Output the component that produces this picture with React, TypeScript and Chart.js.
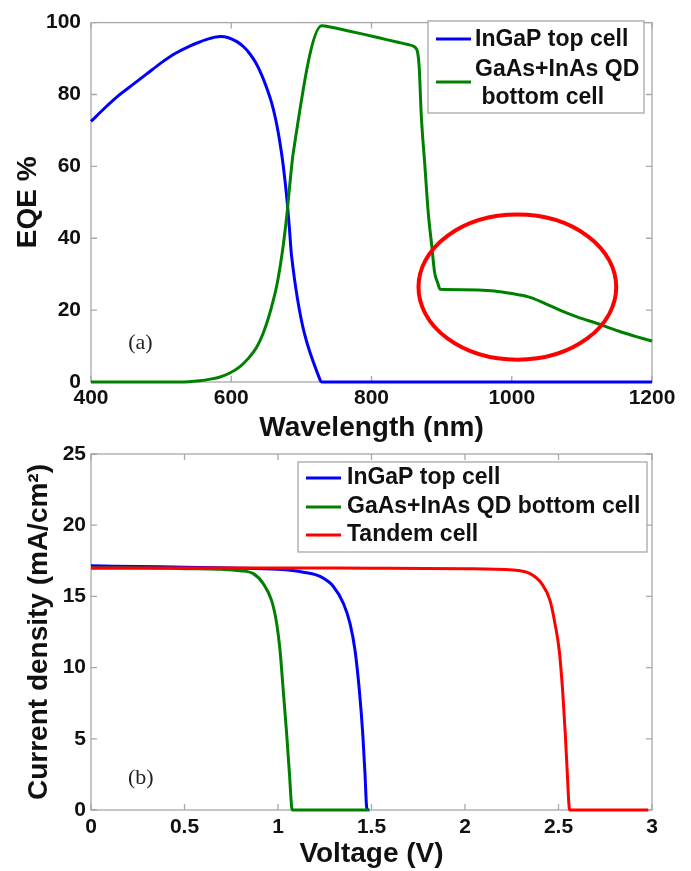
import React, { useEffect, useRef } from 'react';
import { Chart, registerables } from 'chart.js';

Chart.register(...registerables);

// ---------- Data: panel (a) EQE ----------
const ingapWavelength = [400, 420, 440, 460, 480, 500, 520, 540, 555, 570, 584, 596, 608, 618, 627, 635, 643, 651, 658, 663, 667, 671, 674, 677, 680, 683, 686, 727, 729, 800, 900, 1000, 1100, 1200];
const ingapEqe = [72.5, 76.3, 79.8, 82.8, 85.8, 88.8, 91.4, 93.4, 94.6, 95.6, 96.1, 95.8, 94.7, 93.2, 91.2, 88.8, 85.6, 81.6, 77.4, 73.4, 69.4, 64.6, 60.4, 55.4, 49.6, 42.6, 35.1, 0.4, 0, 0, 0, 0, 0, 0];

const gaasWavelength = [400, 450, 500, 540, 555, 570, 584, 598, 612, 624, 636, 645, 653, 659, 665, 670, 674, 677, 680, 682, 684, 686, 688, 729, 741, 755, 788, 812, 836, 852, 860, 864, 866, 868, 871, 876, 881, 886, 890, 894, 898, 930, 952, 975, 1000, 1024, 1047, 1071, 1095, 1123, 1152, 1180, 1200];
const gaasEqe = [0, 0, 0, 0.1, 0.35, 0.8, 1.4, 2.5, 4.2, 6.5, 9.6, 13.3, 17.8, 22.0, 26.9, 32.5, 37.8, 42.5, 47.8, 52.0, 55.9, 59.8, 63.2, 99.1, 98.8, 98.2, 96.8, 95.7, 94.6, 93.9, 93.4, 92.7, 91.5, 87.7, 74.1, 60.5, 46.9, 37.8, 30.5, 27.8, 25.8, 25.7, 25.6, 25.3, 24.6, 23.7, 21.9, 19.8, 18.0, 16.2, 14.2, 12.5, 11.4];

const eqeXTicks = { min: 400, max: 1200, step: 200 };
const eqeYTicks = { min: 0, max: 100, step: 20 };
const eqeSeriesLabels = ['InGaP top cell', 'GaAs+InAs QD bottom cell'];
const eqeLegendLines = [['InGaP top cell'], ['GaAs+InAs QD', ' bottom cell']];
const eqeCircle = { x: 1008, y: 26.4, rx: 141, ry: 20.2 };
const eqePanelLabel = { text: '(a)', x: 453, y: 10.9 };

// ---------- Data: panel (b) J-V ----------
const ingapVoltage = [0, 0.25, 0.5, 0.75, 1.0, 1.135, 1.225, 1.296, 1.35, 1.385, 1.412, 1.435, 1.453, 1.465, 1.474, 1.48];
const ingapCurrent = [17.15, 17.1, 17.05, 17.0, 16.9, 16.7, 16.4, 15.7, 14.5, 13.1, 11.2, 8.4, 5.4, 2.6, 0.2, 0];

const gaasVoltage = [0, 0.25, 0.5, 0.7, 0.797, 0.868, 0.921, 0.966, 0.993, 1.011, 1.028, 1.046, 1.061, 1.073, 1.078, 1.49];
const gaasCurrent = [17.0, 17.0, 16.95, 16.9, 16.8, 16.6, 15.9, 14.7, 13.1, 11.2, 8.4, 5.4, 2.6, 0.2, 0, 0];

const tandemVoltage = [0, 0.5, 1.0, 1.5, 2.0, 2.258, 2.348, 2.41, 2.455, 2.481, 2.504, 2.522, 2.536, 2.547, 2.558, 2.563, 2.98];
const tandemCurrent = [17.0, 17.0, 17.0, 16.98, 16.95, 16.85, 16.6, 15.9, 14.7, 13.1, 11.2, 8.4, 5.4, 2.6, 0.1, 0, 0];

const jvXTicks = { min: 0, max: 3, step: 0.5 };
const jvYTicks = { min: 0, max: 25, step: 5 };
const jvSeriesLabels = ['InGaP top cell', 'GaAs+InAs QD bottom cell', 'Tandem cell'];
const jvPanelLabel = { text: '(b)', x: 0.198, y: 2.25 };

// ---------- Styles ----------
const SANS = "'Liberation Sans', Arial, Helvetica, sans-serif";
const SERIF = "'Liberation Serif', 'Times New Roman', serif";
const BLUE = '#0000ff';
const GREEN = '#008000';
const RED = '#ff0000';
const TEXT = '#111111';
const AXIS = '#a8a8a8';

const toPoints = (xs: number[], ys: number[]) => xs.map((x, i) => ({ x, y: ys[i] }));
const fmt = (v: any) => String(Number(Number(v).toFixed(2)));

const boxPlugin = {
  id: 'matlabBox',
  beforeDatasetsDraw(chart: any, _a: any, opts: any) {
    const { ctx, chartArea, scales } = chart;
    const { left, right, top, bottom } = chartArea;
    ctx.save();
    ctx.strokeStyle = opts.color || AXIS;
    ctx.lineWidth = 1.3;
    ctx.strokeRect(left, top, right - left, bottom - top);
    const L = opts.tickLen || 6;
    ctx.beginPath();
    scales.x.ticks.forEach((t: any) => {
      const px = scales.x.getPixelForValue(t.value);
      ctx.moveTo(px, bottom); ctx.lineTo(px, bottom - L);
      ctx.moveTo(px, top); ctx.lineTo(px, top + L);
    });
    scales.y.ticks.forEach((t: any) => {
      const py = scales.y.getPixelForValue(t.value);
      ctx.moveTo(left, py); ctx.lineTo(left + L, py);
      ctx.moveTo(right, py); ctx.lineTo(right - L, py);
    });
    ctx.stroke();
    ctx.restore();
  },
};

const decorPlugin = {
  id: 'decor',
  afterDatasetsDraw(chart: any, _a: any, opts: any) {
    const { ctx, scales } = chart;
    ctx.save();
    if (opts.ellipse) {
      const e = opts.ellipse;
      const cx = scales.x.getPixelForValue(e.x);
      const cy = scales.y.getPixelForValue(e.y);
      const rx = scales.x.getPixelForValue(e.x + e.rx) - cx;
      const ry = cy - scales.y.getPixelForValue(e.y + e.ry);
      ctx.strokeStyle = RED;
      ctx.lineWidth = 4;
      ctx.beginPath();
      ctx.ellipse(cx, cy, rx, ry, 0, 0, Math.PI * 2);
      ctx.stroke();
    }
    if (opts.label) {
      const l = opts.label;
      ctx.fillStyle = '#222';
      ctx.font = `22px ${SERIF}`;
      ctx.textAlign = 'left';
      ctx.textBaseline = 'middle';
      ctx.fillText(l.text, scales.x.getPixelForValue(l.x), scales.y.getPixelForValue(l.y));
    }
    ctx.restore();
  },
};

const legendPlugin = {
  id: 'boxLegend',
  afterDraw(chart: any, _a: any, opts: any) {
    const { ctx } = chart;
    const [x0, y0, x1, y1] = opts.box;
    ctx.save();
    ctx.fillStyle = '#ffffff';
    ctx.fillRect(x0, y0, x1 - x0, y1 - y0);
    ctx.strokeStyle = '#a0a0a0';
    ctx.lineWidth = 1.2;
    ctx.strokeRect(x0, y0, x1 - x0, y1 - y0);
    ctx.font = `bold 23px ${SANS}`;
    ctx.fillStyle = TEXT;
    ctx.textAlign = 'left';
    ctx.textBaseline = 'middle';
    opts.items.forEach((it: any) => {
      const ds = chart.data.datasets[it.dataset];
      ctx.strokeStyle = ds.borderColor;
      ctx.lineWidth = 3;
      ctx.beginPath();
      ctx.moveTo(opts.sampleX[0], it.lineY);
      ctx.lineTo(opts.sampleX[1], it.lineY);
      ctx.stroke();
      it.lines.forEach((t: string, i: number) => {
        ctx.fillText(t, opts.textX, it.textY + i * opts.lineGap);
      });
    });
    ctx.restore();
  },
};

function axis(range: { min: number; max: number; step: number }, title: string, isX: boolean, p: any) {
  return {
    type: 'linear',
    min: range.min,
    max: range.max,
    grid: { display: false, drawTicks: false, tickLength: 0 },
    border: { display: false },
    ticks: {
      stepSize: range.step,
      autoSkip: false,
      maxRotation: 0,
      padding: p.tickPad,
      color: TEXT,
      font: { family: SANS, size: 21, weight: 'bold' },
      callback: (v: any) => fmt(v),
    },
    title: {
      display: true,
      text: title,
      color: TEXT,
      font: { family: SANS, size: 28, weight: 'bold' },
      padding: p.titlePad,
    },
    afterFit: (s: any) => {
      if (isX) s.height = p.size;
      else s.width = p.size;
    },
  };
}

function lineDs(label: string, xs: number[], ys: number[], color: string, order: number) {
  return {
    label,
    data: toPoints(xs, ys),
    borderColor: color,
    backgroundColor: color,
    borderWidth: 3,
    pointRadius: 0,
    fill: false,
    clip: false,
    cubicInterpolationMode: 'monotone',
    order,
  };
}

export default function App() {
  const topRef = useRef<HTMLCanvasElement>(null);
  const botRef = useRef<HTMLCanvasElement>(null);

  useEffect(() => {
    const top = new Chart(topRef.current as HTMLCanvasElement, {
      type: 'line',
      data: {
        datasets: [
          lineDs(eqeSeriesLabels[0], ingapWavelength, ingapEqe, BLUE, 1),
          lineDs(eqeSeriesLabels[1], gaasWavelength, gaasEqe, GREEN, 0),
        ],
      },
      options: {
        responsive: false,
        animation: false,
        layout: { padding: { top: 15, right: 39, left: 0, bottom: 0 } },
        scales: {
          x: axis(eqeXTicks, 'Wavelength (nm)', true, { size: 68, tickPad: 4, titlePad: { top: 0, bottom: 5 } }),
          y: axis(eqeYTicks, 'EQE %', false, { size: 91, tickPad: 10, titlePad: { top: 11, bottom: 0 } }),
        },
        plugins: {
          legend: { display: false },
          tooltip: { enabled: false },
          matlabBox: { color: AXIS, tickLen: 6 },
          decor: { ellipse: eqeCircle, label: eqePanelLabel },
          boxLegend: {
            box: [428, 21, 644, 113],
            sampleX: [436, 471],
            textX: 475,
            lineGap: 28,
            items: [
              { dataset: 0, lineY: 39, textY: 40, lines: eqeLegendLines[0] },
              { dataset: 1, lineY: 82, textY: 70, lines: eqeLegendLines[1] },
            ],
          },
        },
      } as any,
      plugins: [boxPlugin, decorPlugin, legendPlugin],
    } as any);

    const bot = new Chart(botRef.current as HTMLCanvasElement, {
      type: 'line',
      data: {
        datasets: [
          lineDs(jvSeriesLabels[0], ingapVoltage, ingapCurrent, BLUE, 2),
          lineDs(jvSeriesLabels[1], gaasVoltage, gaasCurrent, GREEN, 1),
          lineDs(jvSeriesLabels[2], tandemVoltage, tandemCurrent, RED, 0),
        ],
      },
      options: {
        responsive: false,
        animation: false,
        layout: { padding: { top: 18, right: 39, left: 0, bottom: 0 } },
        scales: {
          x: axis(jvXTicks, 'Voltage (V)', true, { size: 61, tickPad: 5, titlePad: { top: 0, bottom: 0 } }),
          y: axis(jvYTicks, 'Current density (mA/cm²)', false, { size: 91, tickPad: 5, titlePad: { top: 22, bottom: 0 } }),
        },
        plugins: {
          legend: { display: false },
          tooltip: { enabled: false },
          matlabBox: { color: AXIS, tickLen: 6 },
          decor: { label: jvPanelLabel },
          boxLegend: {
            box: [298, 26, 647, 116],
            sampleX: [306, 341],
            textX: 347,
            lineGap: 28,
            items: [
              { dataset: 0, lineY: 42, textY: 42, lines: [jvSeriesLabels[0]] },
              { dataset: 1, lineY: 71, textY: 71, lines: [jvSeriesLabels[1]] },
              { dataset: 2, lineY: 99, textY: 99, lines: [jvSeriesLabels[2]] },
            ],
          },
        },
      } as any,
      plugins: [boxPlugin, decorPlugin, legendPlugin],
    } as any);

    return () => {
      top.destroy();
      bot.destroy();
    };
  }, []);

  return (
    <div style={{ position: 'absolute', left: 0, top: 0, width: 691, height: 871, background: '#ffffff' }}>
      <canvas ref={topRef} width={691} height={450} style={{ position: 'absolute', left: 0, top: 0 }} />
      <canvas ref={botRef} width={691} height={435} style={{ position: 'absolute', left: 0, top: 436 }} />
    </div>
  );
}
